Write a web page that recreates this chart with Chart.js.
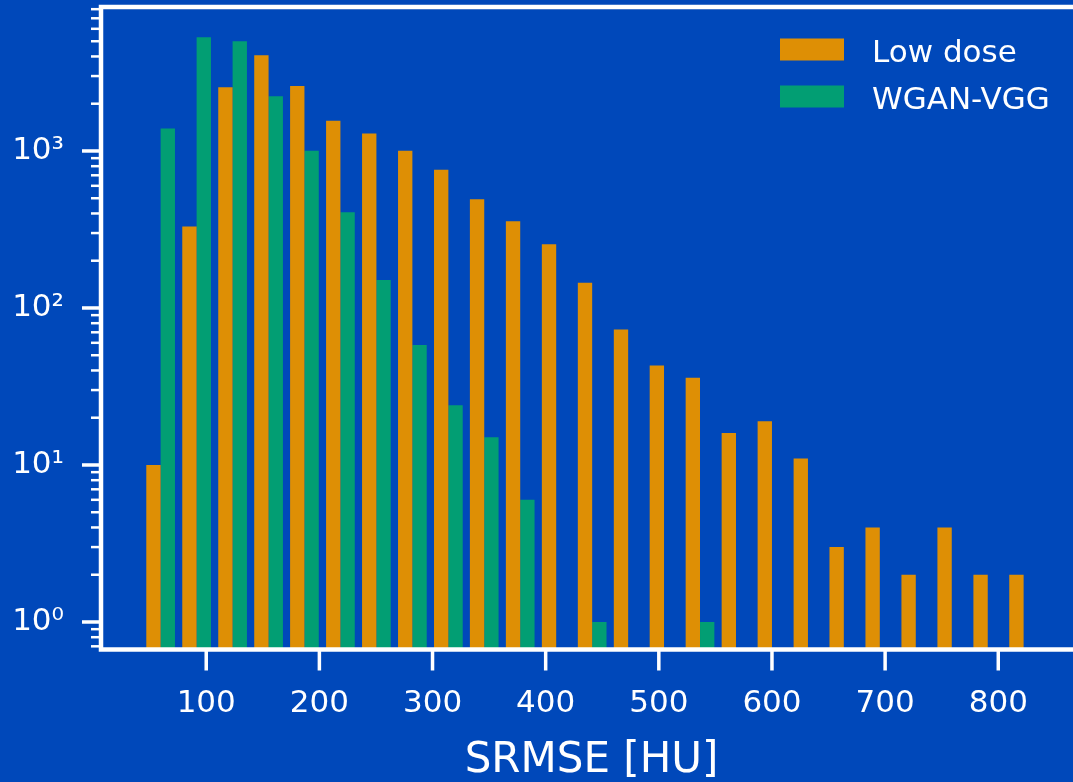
<!DOCTYPE html>
<html>
<head>
<meta charset="utf-8">
<title>SRMSE histogram</title>
<script src="https://cdn.jsdelivr.net/npm/chart.js@4.4.1/dist/chart.umd.min.js"></script>
<style>
  html, body { margin: 0; padding: 0; background: #0048ba; overflow: hidden; }
  canvas { display: block; }
</style>
</head>
<body>
<canvas id="myChart" width="1090" height="782"></canvas>
<script>
// histogram bins (centres, HU) and counts
const binCenters = [59.7, 91.5, 123.3, 155.1, 186.8, 218.6, 250.4, 282.2, 314.0, 345.7,
  377.5, 409.3, 441.1, 472.9, 504.6, 536.4, 568.2, 600.0, 631.8, 663.5,
  695.3, 727.1, 758.9, 790.7, 822.4];
const lowDose = [10, 330, 2545, 4070, 2595, 1560, 1290, 1005, 760, 492,
  357, 255, 145, 73, 43, 36, 16, 19, 11, 3,
  4, 2, 4, 2, 2];
const wganVgg = [1390, 5300, 5000, 2230, 1005, 407, 151, 58, 24, 15,
  6, 0, 1, 0, 0, 1, 0, 0, 0, 0,
  0, 0, 0, 0, 0];
const seriesLabels = ["Low dose", "WGAN-VGG"];
const xTicks = [100, 200, 300, 400, 500, 600, 700, 800];
const yTicks = [1, 10, 100, 1000];
const yTickLabels = ["10⁰", "10¹", "10²", "10³"];
const xTitle = "SRMSE [HU]";

const BG = "#0048ba";
const WHITE = "#ffffff";
const COLORS = ["#de8f05", "#029e73"];
const Y_MIN = 0.668;
const Y_MAX = 8260;

Chart.defaults.font.family = "DejaVu Sans";
Chart.defaults.color = WHITE;

function toPoints(values) {
  // empty bins are left out, log scale has no zero
  return binCenters.map((x, i) => ({ x: x, y: values[i] > 0 ? values[i] : null }));
}

function logTicks() {
  const out = [];
  for (let e = -1; e <= 3; e++) {
    for (let m = 1; m <= 9; m++) {
      const v = Number((m * Math.pow(10, e)).toPrecision(3));
      if (v >= Y_MIN && v <= Y_MAX) out.push({ value: v });
    }
  }
  return out;
}

function noPadding(s) {
  // keep the label padding from pushing the plot area around
  s.paddingTop = 0;
  s.paddingBottom = 0;
  s.paddingLeft = 0;
  s.paddingRight = 0;
}

function line(ctx, x1, y1, x2, y2) {
  ctx.beginPath();
  ctx.moveTo(x1, y1);
  ctx.lineTo(x2, y2);
  ctx.stroke();
}

const framePlugin = {
  id: "frame",
  beforeDraw(chart) {
    const ctx = chart.ctx;
    ctx.save();
    ctx.fillStyle = BG;
    ctx.fillRect(0, 0, chart.width, chart.height);
    ctx.restore();
  },
  afterDatasetsDraw(chart) {
    const { ctx, chartArea: a, scales } = chart;
    ctx.save();
    ctx.strokeStyle = WHITE;

    // tick marks
    ctx.lineWidth = 3.5;
    xTicks.forEach((v) => {
      const px = scales.x.getPixelForValue(v);
      line(ctx, px, a.bottom, px, a.bottom + 21);
    });
    scales.y.ticks.forEach((t) => {
      const major = yTicks.includes(t.value);
      const py = scales.y.getPixelForValue(t.value);
      ctx.lineWidth = major ? 3.5 : 2.5;
      line(ctx, a.left - (major ? 19 : 10), py, a.left, py);
    });

    // spines
    ctx.lineWidth = 4.5;
    ctx.lineJoin = "miter";
    ctx.strokeRect(a.left, a.top, a.right - a.left, a.bottom - a.top);

    // legend, upper right
    ctx.font = "31px 'DejaVu Sans'";
    ctx.textBaseline = "alphabetic";
    chart.data.datasets.forEach((ds, i) => {
      const y = a.top + 31.5 + i * 47;
      ctx.fillStyle = ds.backgroundColor;
      ctx.fillRect(a.right - 302, y, 64, 22);
      ctx.fillStyle = WHITE;
      ctx.fillText(ds.label, a.right - 210, y + 23);
    });
    ctx.restore();
  },
};

new Chart(document.getElementById("myChart"), {
  type: "bar",
  data: {
    datasets: [
      {
        label: seriesLabels[0],
        data: toPoints(lowDose),
        backgroundColor: COLORS[0],
        borderWidth: 0,
        barPercentage: 1,
        categoryPercentage: 0.8,
      },
      {
        label: seriesLabels[1],
        data: toPoints(wganVgg),
        backgroundColor: COLORS[1],
        borderWidth: 0,
        barPercentage: 1,
        categoryPercentage: 0.8,
      },
    ],
  },
  options: {
    responsive: false,
    animation: false,
    layout: { autoPadding: false, padding: { top: 7, right: 8, bottom: 0, left: 0 } },
    plugins: { legend: { display: false }, tooltip: { enabled: false } },
    scales: {
      x: {
        type: "linear",
        min: 7,
        max: 874,
        offset: false,
        grid: { display: false, drawTicks: false, offset: false },
        border: { display: false },
        afterBuildTicks: (s) => { s.ticks = xTicks.map((v) => ({ value: v })); },
        afterFit: (s) => { s.height = 132.5; noPadding(s); },
        ticks: { font: { size: 31 }, padding: 36, maxRotation: 0, autoSkip: false, color: WHITE },
        title: {
          display: true,
          text: xTitle,
          color: WHITE,
          font: { size: 42, lineHeight: 1 },
          padding: { top: 0, bottom: 0 },
        },
      },
      y: {
        type: "logarithmic",
        min: Y_MIN,
        max: Y_MAX,
        grid: { display: false, drawTicks: false },
        border: { display: false },
        afterBuildTicks: (s) => { s.ticks = logTicks(); },
        afterFit: (s) => { s.width = 101; noPadding(s); },
        ticks: {
          font: { size: 31 },
          padding: 37,
          autoSkip: false,
          color: WHITE,
          callback: (v) => {
            const i = yTicks.indexOf(v);
            return i >= 0 ? yTickLabels[i] : "";
          },
        },
      },
    },
  },
  plugins: [framePlugin],
});
</script>
</body>
</html>
